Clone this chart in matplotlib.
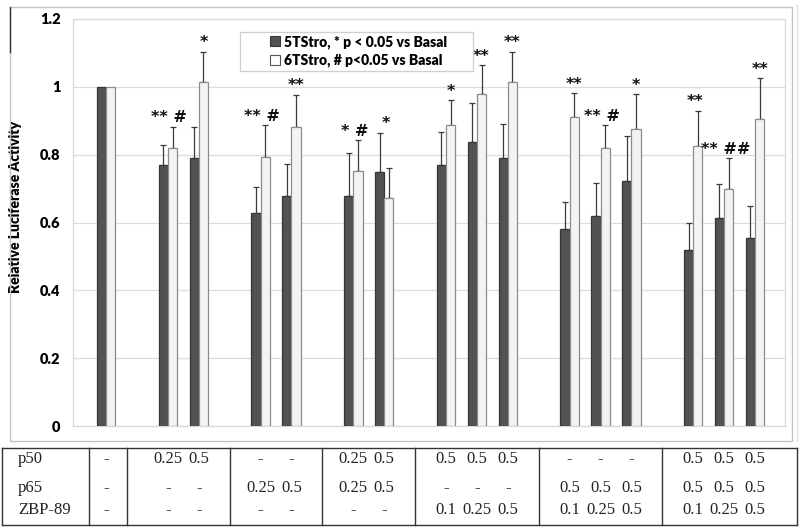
import matplotlib
matplotlib.use("Agg")
import matplotlib.pyplot as plt
import matplotlib.transforms as mtransforms
from matplotlib.patches import Rectangle, Patch
from matplotlib.lines import Line2D
import numpy as np

plt.rcParams['font.family'] = ['Lato', 'DejaVu Sans']

# ---------------- data ----------------
series_names = ["5TStro, * p < 0.05 vs Basal", "6TStro, # p<0.05 vs Basal"]
section_sizes = [1, 2, 2, 2, 3, 3, 3]

dark_vals = [1.0, 0.769, 0.790, 0.628, 0.677, 0.677, 0.749, 0.769, 0.836, 0.790,
             0.581, 0.620, 0.722, 0.518, 0.613, 0.554]
dark_err = [0.0, 0.060, 0.093, 0.078, 0.095, 0.127, 0.116, 0.097, 0.116, 0.100,
            0.078, 0.096, 0.132, 0.082, 0.100, 0.096]
light_vals = [1.0, 0.819, 1.015, 0.793, 0.881, 0.751, 0.672, 0.888, 0.978, 1.014,
              0.912, 0.819, 0.877, 0.827, 0.699, 0.905]
light_err = [0.0, 0.064, 0.089, 0.093, 0.096, 0.091, 0.090, 0.074, 0.086, 0.090,
             0.069, 0.067, 0.102, 0.103, 0.091, 0.120]

sig_labels = ['', '** #', '*', '** #', '**', '* #', '*', '*', '**', '**',
              '**', '** #', '*', '**', '** ##', '**']
sig_anchor = ['g', 'g', 'l', 'g', 'l', 'g', 'g', 'l', 'l', 'l',
              'l', 'g', 'l', 'g', 'g', 'l']

ytick_vals = [0, 0.2, 0.4, 0.6, 0.8, 1.0, 1.2]
ytick_labels = ['0', '0.2', '0.4', '0.6', '0.8', '1', '1.2']

row_names = ['p50', 'p65', 'ZBP-89']
p50 = ['-', '0.25', '0.5', '-', '-', '0.25', '0.5', '0.5', '0.5', '0.5',
       '-', '-', '-', '0.5', '0.5', '0.5']
p65 = ['-', '-', '-', '0.25', '0.5', '0.25', '0.5', '-', '-', '-',
       '0.5', '0.5', '0.5', '0.5', '0.5', '0.5']
zbp = ['-', '-', '-', '-', '-', '-', '-', '0.1', '0.25', '0.5',
       '0.1', '0.25', '0.5', '0.1', '0.25', '0.5']

# ---------------- layout ----------------
pos = []
starts = []
cur = 0
for s in section_sizes:
    starts.append(cur)
    pos.extend(range(cur, cur + s))
    cur += s + 1
pos = np.array(pos, dtype=float)
bw = 0.3

W, H = 800, 530
fig = plt.figure(figsize=(8, 5.3), dpi=100)

def fx(px):
    return px / W

def fy(py):
    return 1 - py / H

ax = fig.add_axes([fx(73), fy(426), fx(785) - fx(73), fy(19) - fy(426)])

dark_c = '#525252'
dark_e = '#363636'
light_c = '#f3f3f3'
light_e = '#8c8c8c'

ax.bar(pos - bw / 2, dark_vals, width=bw, color=dark_c, edgecolor=dark_e,
       linewidth=0.9, zorder=3)
ax.bar(pos + bw / 2, light_vals, width=bw, color=light_c, edgecolor=light_e,
       linewidth=0.9, zorder=3)

dv = np.array(dark_vals); lv = np.array(light_vals)
de = np.array(dark_err); le = np.array(light_err)
mask = de > 0
ax.errorbar((pos - bw / 2)[mask], dv[mask], yerr=[np.zeros(mask.sum()), de[mask]],
            fmt='none', ecolor='#3a3a3a', elinewidth=0.9, capsize=2.2,
            capthick=0.9, zorder=2)
mask = le > 0
ax.errorbar((pos + bw / 2)[mask], lv[mask], yerr=[np.zeros(mask.sum()), le[mask]],
            fmt='none', ecolor='#3a3a3a', elinewidth=0.9, capsize=2.2,
            capthick=0.9, zorder=2)

# significance marks
for i, lab in enumerate(sig_labels):
    if not lab:
        continue
    top = max(dv[i] + de[i], lv[i] + le[i])
    x = pos[i] + (bw / 2 if sig_anchor[i] == 'l' else 0.05)
    ax.annotate(lab, xy=(x, top), xytext=(0, 3), textcoords='offset points',
                ha='center', va='baseline', fontsize=11.5, fontweight='bold',
                family=['DejaVu Sans'], color='#111111', zorder=5)

ax.set_xlim(-1.07, 21.97)
ax.set_ylim(0, 1.2)
ax.set_yticks(ytick_vals)
ax.set_yticklabels(ytick_labels, fontsize=10.5, fontweight='heavy')
ax.tick_params(axis='y', length=0, pad=9)
ax.set_xticks([])
ax.yaxis.grid(True, color='#dcdcdc', linewidth=0.9, zorder=0)
ax.set_axisbelow(True)
for sp in ax.spines.values():
    sp.set_color('#d8d8d8')
    sp.set_linewidth(0.9)
ax.set_ylabel('Relative Luciferase Activity', fontsize=10, fontweight='heavy')
ax.yaxis.set_label_coords(-0.072, 0.539)

# legend
lx0, lx1 = (240 - 73) / 712, (473 - 73) / 712
ly0, ly1 = (426 - 70.5) / 407, (426 - 32) / 407
ax.add_patch(Rectangle((lx0, ly0), lx1 - lx0, ly1 - ly0, transform=ax.transAxes,
                       facecolor='white', edgecolor='#cfcfcf', linewidth=0.9,
                       zorder=6))
handles = [Patch(facecolor=dark_c, edgecolor=dark_e, linewidth=0.8),
           Patch(facecolor='white', edgecolor='#555555', linewidth=0.8)]
leg = ax.legend(handles, series_names, loc='center',
                bbox_to_anchor=((lx0 + lx1) / 2 + 0.003, (ly0 + ly1) / 2),
                frameon=False, prop={'size': 10, 'weight': 'heavy'},
                handlelength=0.75, handleheight=0.75, handletextpad=0.3,
                labelspacing=0.35, borderpad=0)
leg.set_zorder(7)

# table
tax = fig.add_axes([fx(2), fy(525), fx(797) - fx(2), fy(448) - fy(525)])
tax.set_xticks([]); tax.set_yticks([])
tax.set_xlim(0, 1); tax.set_ylim(0, 1)
for sp in tax.spines.values():
    sp.set_color('#333333')
    sp.set_linewidth(1.0)
blend = mtransforms.blended_transform_factory(ax.transData, tax.transAxes)
seps = [-0.54, 0.67] + [starts[k] - 1.0 for k in range(2, len(starts))]
for sx in seps:
    tax.plot([sx, sx], [0, 1], transform=blend, color='#333333', lw=1.0,
             clip_on=False)
row_y = [0.853, 0.477, 0.195]
tfont = dict(family=['Liberation Serif', 'DejaVu Serif'], fontsize=12,
             color='#222222')
for r, (name, vals) in enumerate(zip(row_names, [p50, p65, zbp])):
    tax.text(0.02, row_y[r], name, transform=tax.transAxes, ha='left',
             va='center', **tfont)
    for i, v in enumerate(vals):
        tax.text(pos[i], row_y[r], v, transform=blend, ha='center',
                 va='center', **tfont)

# outer chart frame
fig.add_artist(Rectangle((fx(10), fy(441)), fx(792) - fx(10), fy(7) - fy(441),
                         transform=fig.transFigure, fill=False,
                         edgecolor='#c4c4c4', linewidth=1.0))
fig.add_artist(Line2D([fx(10), fx(10)], [fy(7), fy(52)], transform=fig.transFigure,
                      color='#333333', linewidth=1.0))
fig.add_artist(Line2D([fx(797), fx(797)], [fy(441), fy(5)], transform=fig.transFigure,
                      color='#e0e0e0', linewidth=1.0))

fig.savefig('out.png', dpi=100)
